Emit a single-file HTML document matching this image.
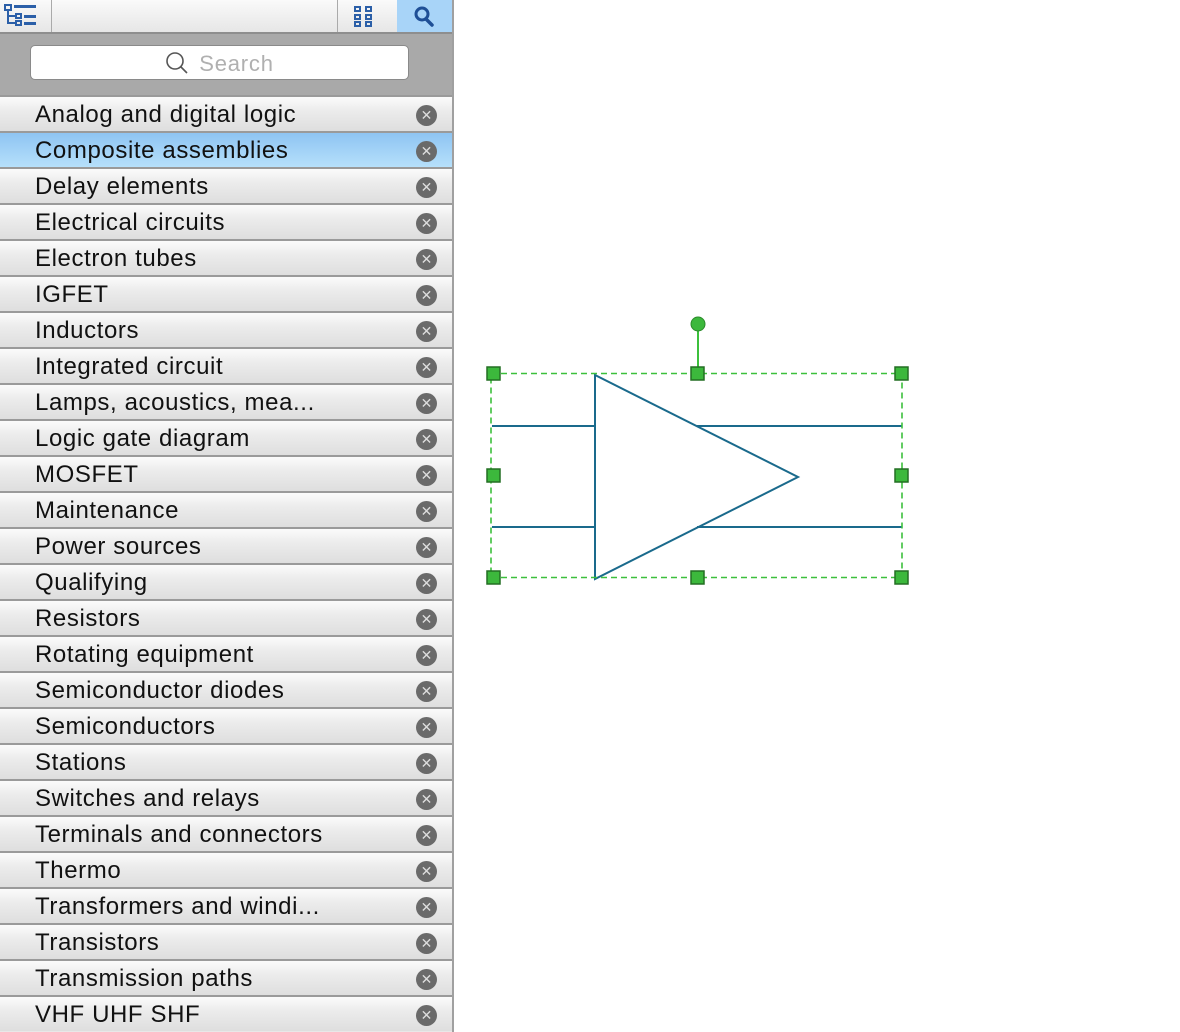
<!DOCTYPE html>
<html><head><meta charset="utf-8"><style>
body{margin:0;width:1180px;height:1032px;background:#fff;position:relative;overflow:hidden;font-family:"Liberation Sans",sans-serif}
.panel{position:absolute;left:0;top:0;width:452px;height:1032px;border-right:2px solid #a0a0a0;background:#e8e8e8}
.tb{position:absolute;left:0;top:0;width:452px;height:32px;background:linear-gradient(#fafafa,#e6e6e6);border-bottom:2px solid #8e8e8e}
.sa{position:absolute;left:0;top:34px;width:452px;height:61px;background:#a9a9a9}
.search{position:absolute;left:30px;top:11px;width:377px;height:33px;background:#fff;border:1px solid #8a8a8a;border-radius:5px;color:#b0b0b0;font-size:22px;letter-spacing:0.8px;line-height:35px;text-align:center}
.row{position:absolute;left:0;width:452px;height:34px;border-top:2px solid #9a9a9a;background:linear-gradient(#fbfbfb,#ececec 40%,#dedede);font-size:24px;letter-spacing:0.6px;color:#111;line-height:34px}
.row span{position:absolute;left:35px;top:1px}
.row.sel{background:linear-gradient(#8ec4f2,#b6e0fb)}
.x{position:absolute;left:416px;top:8px;width:21px;height:21px;border-radius:50%;background:#6a6a6a;color:#ddd;font-size:14px;letter-spacing:0;line-height:21px;text-align:center}
</style></head><body>
<div class="panel">
<div class="tb">
 <svg width="452" height="32" style="position:absolute;left:0;top:0">
  <line x1="51.5" y1="0" x2="51.5" y2="32" stroke="#aaa"/>
  <line x1="337.5" y1="0" x2="337.5" y2="32" stroke="#aaa"/>
  <rect x="397" y="0" width="55" height="32" fill="#a8d4f8"/>
  <g fill="none" stroke="#2b5fa8" stroke-width="2">
   <rect x="5" y="5" width="6" height="5"/><rect x="16" y="14" width="5" height="4"/><rect x="16" y="21" width="5" height="4"/>
   <path d="M8 10v13h8M8 16h8"/>
  </g>
  <g fill="#2b5fa8"><rect x="14" y="5" width="22" height="3"/><rect x="24" y="15" width="12" height="3"/><rect x="24" y="22" width="12" height="3"/></g>
  <g fill="none" stroke="#2b5fa8" stroke-width="2">
   <rect x="355" y="7" width="5" height="4"/><rect x="366" y="7" width="5" height="4"/>
   <rect x="355" y="15" width="5" height="4"/><rect x="366" y="15" width="5" height="4"/>
   <rect x="355" y="22" width="5" height="4"/><rect x="366" y="22" width="5" height="4"/>
  </g>
  <circle cx="422" cy="14" r="6" fill="none" stroke="#1f4f96" stroke-width="3"/>
  <line x1="426" y1="19" x2="432" y2="25" stroke="#1f4f96" stroke-width="3.5" stroke-linecap="round"/>
 </svg>
</div>
<div class="sa"><div class="search"><svg width="24" height="24" style="vertical-align:-4px;margin-right:10px"><circle cx="10" cy="10" r="8" fill="none" stroke="#555" stroke-width="1.6"/><line x1="16" y1="16" x2="22" y2="22" stroke="#555" stroke-width="1.6"/></svg>Search</div></div>
<div class="row" style="top:95px"><span>Analog and digital logic</span><div class="x">✕</div></div>
<div class="row sel" style="top:131px"><span>Composite assemblies</span><div class="x">✕</div></div>
<div class="row" style="top:167px"><span>Delay elements</span><div class="x">✕</div></div>
<div class="row" style="top:203px"><span>Electrical circuits</span><div class="x">✕</div></div>
<div class="row" style="top:239px"><span>Electron tubes</span><div class="x">✕</div></div>
<div class="row" style="top:275px"><span>IGFET</span><div class="x">✕</div></div>
<div class="row" style="top:311px"><span>Inductors</span><div class="x">✕</div></div>
<div class="row" style="top:347px"><span>Integrated circuit</span><div class="x">✕</div></div>
<div class="row" style="top:383px"><span>Lamps, acoustics, mea...</span><div class="x">✕</div></div>
<div class="row" style="top:419px"><span>Logic gate diagram</span><div class="x">✕</div></div>
<div class="row" style="top:455px"><span>MOSFET</span><div class="x">✕</div></div>
<div class="row" style="top:491px"><span>Maintenance</span><div class="x">✕</div></div>
<div class="row" style="top:527px"><span>Power sources</span><div class="x">✕</div></div>
<div class="row" style="top:563px"><span>Qualifying</span><div class="x">✕</div></div>
<div class="row" style="top:599px"><span>Resistors</span><div class="x">✕</div></div>
<div class="row" style="top:635px"><span>Rotating equipment</span><div class="x">✕</div></div>
<div class="row" style="top:671px"><span>Semiconductor diodes</span><div class="x">✕</div></div>
<div class="row" style="top:707px"><span>Semiconductors</span><div class="x">✕</div></div>
<div class="row" style="top:743px"><span>Stations</span><div class="x">✕</div></div>
<div class="row" style="top:779px"><span>Switches and relays</span><div class="x">✕</div></div>
<div class="row" style="top:815px"><span>Terminals and connectors</span><div class="x">✕</div></div>
<div class="row" style="top:851px"><span>Thermo</span><div class="x">✕</div></div>
<div class="row" style="top:887px"><span>Transformers and windi...</span><div class="x">✕</div></div>
<div class="row" style="top:923px"><span>Transistors</span><div class="x">✕</div></div>
<div class="row" style="top:959px"><span>Transmission paths</span><div class="x">✕</div></div>
<div class="row" style="top:995px"><span>VHF UHF SHF</span><div class="x">✕</div></div>
</div>
<svg width="1180" height="1032" style="position:absolute;left:0;top:0">
 <g stroke="#1a6a8c" stroke-width="2" fill="none">
  <polygon points="595,375 798,477 595,579" fill="#fff"/>
  <line x1="492" y1="426" x2="595" y2="426"/><line x1="492" y1="527" x2="595" y2="527"/>
  <line x1="697" y1="426" x2="902" y2="426"/><line x1="697" y1="527" x2="902" y2="527"/>
 </g>
 <rect x="491" y="373.5" width="411" height="204" fill="none" stroke="#3cc03c" stroke-width="1.6" stroke-dasharray="6,4"/>
 <line x1="698" y1="324" x2="698" y2="374" stroke="#3cc03c" stroke-width="2"/>
 <circle cx="698" cy="324" r="7" fill="#3cb83c" stroke="#2a8a2a"/>
 <g fill="#3cb83c" stroke="#236f23" stroke-width="1.5">
  <rect x="487" y="367" width="13" height="13"/><rect x="691" y="367" width="13" height="13"/><rect x="895" y="367" width="13" height="13"/>
  <rect x="487" y="469" width="13" height="13"/><rect x="895" y="469" width="13" height="13"/>
  <rect x="487" y="571" width="13" height="13"/><rect x="691" y="571" width="13" height="13"/><rect x="895" y="571" width="13" height="13"/>
 </g>
</svg>
</body></html>
